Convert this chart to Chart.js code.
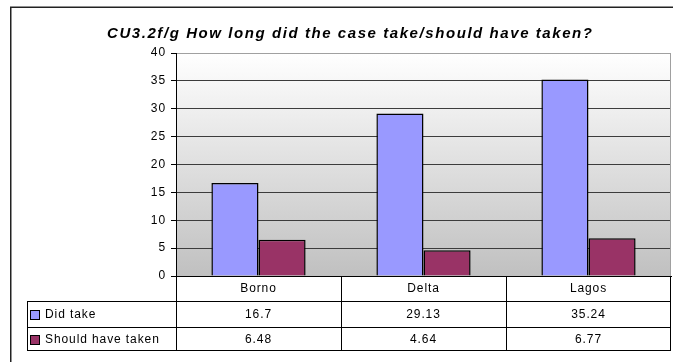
<!DOCTYPE html>
<html>
<head>
<meta charset="utf-8">
<script src="https://cdn.jsdelivr.net/npm/chart.js@4.4.1/dist/chart.umd.min.js"></script>
<style>
  html, body { margin: 0; padding: 0; background: #fff; }
  canvas { display: block; }
</style>
</head>
<body>
<canvas id="myChart1" width="673" height="362"></canvas>
<script>
// data
const chartTitle = "CU3.2f/g How long did the case take/should have taken?";
const categories = ["Borno", "Delta", "Lagos"];
const didTake = [16.7, 29.13, 35.24];
const shouldHaveTaken = [6.48, 4.64, 6.77];
const seriesNames = ["Did take", "Should have taken"];
const yMin = 0, yMax = 40, yStep = 5;

const FONT = '"Liberation Sans", Arial, sans-serif';
const SPACING = '0.9px';

// background, frame and the gray gradient behind the bars
const backdrop = {
    id: 'backdrop',
    beforeDraw(chart) {
        const ctx = chart.ctx, a = chart.chartArea;
        ctx.save();
        ctx.fillStyle = '#fff';
        ctx.fillRect(0, 0, chart.width, chart.height);
        ctx.strokeStyle = '#222';
        ctx.lineWidth = 1.5;
        ctx.strokeRect(10.75, 7.25, chart.width + 20, chart.height + 20);
        const g = ctx.createLinearGradient(0, a.top, 0, a.bottom);
        g.addColorStop(0, '#ffffff');
        g.addColorStop(1, '#c0c0c0');
        ctx.fillStyle = g;
        ctx.fillRect(a.left, a.top, a.right - a.left, a.bottom - a.top);
        ctx.restore();
        ctx.letterSpacing = SPACING;
    }
};

// title and the data table under the plot
const dataTable = {
    id: 'dataTable',
    afterDraw(chart) {
        const ctx = chart.ctx, a = chart.chartArea, x = chart.scales.x;
        ctx.save();
        // plot right edge
        ctx.strokeStyle = '#a0a0a0';
        ctx.lineWidth = 1;
        ctx.beginPath();
        ctx.moveTo(Math.round(a.right) - 0.5, a.top);
        ctx.lineTo(Math.round(a.right) - 0.5, a.bottom);
        ctx.stroke();

        const bounds = [x.left];
        for (let i = 0; i < categories.length - 1; i++) {
            bounds.push((x.getPixelForValue(i) + x.getPixelForValue(i + 1)) / 2);
        }
        bounds.push(x.right);
        const tableLeft = 27;
        const rows = [301, 327, 350];
        const px = v => Math.round(v) + 0.5;

        ctx.strokeStyle = '#000';
        ctx.beginPath();
        rows.forEach(r => { ctx.moveTo(tableLeft, px(r)); ctx.lineTo(Math.round(x.right), px(r)); });
        ctx.moveTo(px(tableLeft), rows[0]); ctx.lineTo(px(tableLeft), rows[2] + 1);
        bounds.forEach((b, i) => {
            const bx = i === bounds.length - 1 ? Math.round(b) - 0.5 : px(b);
            ctx.moveTo(bx, a.bottom); ctx.lineTo(bx, rows[2] + 1);
        });
        ctx.stroke();

        const series = [didTake, shouldHaveTaken];
        ctx.font = '12px ' + FONT;
        ctx.letterSpacing = SPACING;
        ctx.textBaseline = 'middle';
        series.forEach((vals, s) => {
            const top = s === 0 ? rows[0] : rows[1];
            const bot = s === 0 ? rows[1] : rows[2];
            const cy = (top + bot) / 2 + 1;
            const ds = chart.data.datasets[s];
            ctx.fillStyle = ds.backgroundColor;
            ctx.fillRect(31, Math.round(cy) - 4, 8, 8);
            ctx.strokeStyle = '#000';
            ctx.strokeRect(30.5, Math.round(cy) - 4.5, 9, 9);
            ctx.fillStyle = '#000';
            ctx.textAlign = 'left';
            ctx.fillText(seriesNames[s], 45, cy);
            ctx.textAlign = 'center';
            vals.forEach((v, i) => ctx.fillText(String(v), x.getPixelForValue(i), cy));
        });

        // title, stretched like the original
        ctx.font = 'bold italic 15px ' + FONT;
        ctx.letterSpacing = '0px';
        const w = ctx.measureText(chartTitle).width;
        const sp = (485 - w) / (chartTitle.length - 1);
        ctx.letterSpacing = sp + 'px';
        ctx.textAlign = 'left';
        ctx.textBaseline = 'alphabetic';
        ctx.fillStyle = '#000';
        ctx.fillText(chartTitle, 107, 38);
        ctx.restore();
    }
};

new Chart(document.getElementById('myChart1').getContext('2d'), {
    type: 'bar',
    data: {
        labels: categories,
        datasets: [{
            label: seriesNames[0],
            data: didTake,
            backgroundColor: '#9999ff',
            borderColor: '#000',
            borderWidth: 1.5
        }, {
            label: seriesNames[1],
            data: shouldHaveTaken,
            backgroundColor: '#993366',
            borderColor: '#000',
            borderWidth: 1.5
        }]
    },
    options: {
        responsive: false,
        animation: false,
        devicePixelRatio: 1,
        categoryPercentage: 0.571,
        barPercentage: 1,
        layout: { padding: { top: 53, right: 2, bottom: 0, left: 0 } },
        plugins: {
            legend: { display: false },
            title: { display: false },
            tooltip: { enabled: false }
        },
        scales: {
            x: {
                grid: { display: false, drawTicks: false },
                border: { display: true, color: '#000', width: 1 },
                ticks: { color: '#000', font: { family: FONT, size: 12 }, padding: 5 },
                afterFit(scale) { scale.height = 86; }
            },
            y: {
                min: yMin,
                max: yMax,
                grid: {
                    color: c => c.tick && c.tick.value === yMax ? '#a0a0a0' : '#3c3c3c',
                    tickColor: '#000',
                    tickLength: 5
                },
                border: { display: true, color: '#000', width: 1 },
                ticks: { stepSize: yStep, color: '#000', font: { family: FONT, size: 12 }, padding: 5 },
                afterFit(scale) { scale.width = 176; }
            }
        }
    },
    plugins: [backdrop, dataTable]
});
</script>
</body>
</html>
